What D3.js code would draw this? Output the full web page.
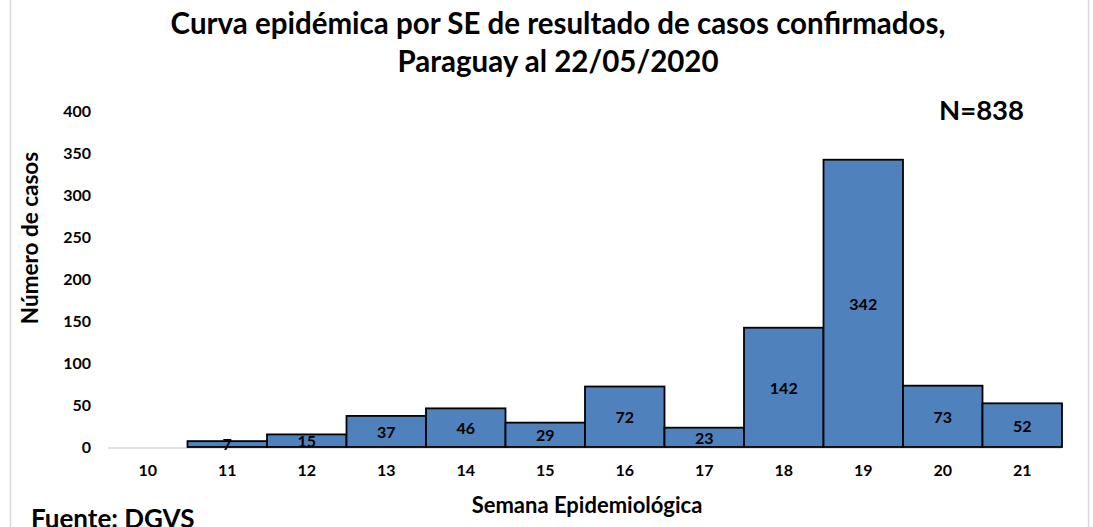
<!DOCTYPE html>
<html>
<head>
<meta charset="utf-8">
<script src="https://cdn.jsdelivr.net/npm/d3@7"></script>
<style>
  body { margin: 0; background: #fff; }
  svg text { font-family: Lato, "Open Sans", sans-serif; font-weight: bold; fill: #000; }
  .tick-label { font-size: 16px; }
  .bar-label { font-size: 16px; }
</style>
</head>
<body>
<svg width="1093" height="527"></svg>
<script>
var weeks = ['10', '11', '12', '13', '14', '15', '16', '17', '18', '19', '20', '21'];
var cases = [0, 7, 15, 37, 46, 29, 72, 23, 142, 342, 73, 52];
var yTicks = [0, 50, 100, 150, 200, 250, 300, 350, 400];
var titleLines = ['Curva epidémica por SE de resultado de casos confirmados,', 'Paraguay al 22/05/2020'];

var svg = d3.select('svg');
var width = +svg.attr('width'), height = +svg.attr('height');

//Outer frame (only left and right edges visible in the original).
svg.append('line').attr('x1', 10.5).attr('x2', 10.5).attr('y1', 0).attr('y2', height)
  .style('stroke', '#d9d9d9').style('stroke-width', 1.5);
svg.append('line').attr('x1', 1088.5).attr('x2', 1088.5).attr('y1', 0).attr('y2', height)
  .style('stroke', '#d9d9d9').style('stroke-width', 1.5);

var margin = {top: 111, right: 31, bottom: 80, left: 108};
var innerW = width - margin.left - margin.right,
    innerH = height - margin.top - margin.bottom;
var inner = svg.append('g')
  .attr('transform', 'translate(' + margin.left + ',' + margin.top + ')');

var data = weeks.map(function(w, i) { return {week: w, value: cases[i]}; });

var xScale = d3.scaleBand().domain(weeks).range([0, innerW]).padding(0);
var yScale = d3.scaleLinear().domain([0, 400]).range([innerH, 0]);

//Y axis tick labels (no axis line).
var yAxis = inner.append('g').call(d3.axisLeft(yScale).tickValues(yTicks).tickSize(0).tickPadding(17));
yAxis.select('.domain').remove();
yAxis.selectAll('text').attr('class', 'tick-label').attr('dy', '0.36em');
yAxis.attr('font-family', null).attr('font-size', null);

//Baseline.
inner.append('line')
  .attr('x1', 0).attr('x2', innerW)
  .attr('y1', innerH + 1).attr('y2', innerH + 1)
  .style('stroke', '#d9d9d9').style('stroke-width', 1.5);

//Bars.
inner.selectAll('rect.bar')
  .data(data.filter(function(d) { return d.value > 0; }))
  .enter().append('rect')
  .attr('class', 'bar')
  .attr('x', function(d) { return xScale(d.week); })
  .attr('y', function(d) { return yScale(d.value); })
  .attr('width', xScale.bandwidth())
  .attr('height', function(d) { return innerH - yScale(d.value); })
  .style('fill', '#4f81bd')
  .style('stroke', '#000')
  .style('stroke-width', 1.8);

//X axis tick labels.
var xAxis = inner.append('g')
  .attr('transform', 'translate(0,' + innerH + ')')
  .call(d3.axisBottom(xScale).tickSize(0).tickPadding(18));
xAxis.select('.domain').remove();
xAxis.selectAll('text').attr('class', 'tick-label');
xAxis.attr('font-family', null).attr('font-size', null);

//Data labels, centred in each bar.
inner.selectAll('text.bar-label')
  .data(data.filter(function(d) { return d.value > 0; }))
  .enter().append('text')
  .attr('class', 'bar-label')
  .attr('x', function(d) { return xScale(d.week) + xScale.bandwidth() / 2; })
  .attr('y', function(d) { return (yScale(d.value) + innerH) / 2; })
  .attr('dy', '0.4em')
  .attr('text-anchor', 'middle')
  .text(function(d) { return d.value; });

//Title.
svg.selectAll('text.title')
  .data(titleLines)
  .enter().append('text')
  .attr('class', 'title')
  .attr('x', 558)
  .attr('y', function(d, i) { return 34 + i * 38; })
  .attr('text-anchor', 'middle')
  .style('font-size', '29.5px')
  .text(function(d) { return d; });

//Total.
svg.append('text')
  .attr('x', 1024).attr('y', 120)
  .attr('text-anchor', 'end')
  .style('font-size', '27.5px')
  .text('N=838');

//Axis labels.
svg.append('text')
  .attr('transform', 'translate(38,238) rotate(-90)')
  .attr('text-anchor', 'middle')
  .style('font-size', '22.5px')
  .text('Número de casos');
svg.append('text')
  .attr('x', 587).attr('y', 513)
  .attr('text-anchor', 'middle')
  .style('font-size', '22px')
  .text('Semana Epidemiológica');

//Source.
svg.append('text')
  .attr('x', 31).attr('y', 528)
  .style('font-size', '26px')
  .text('Fuente: DGVS');
</script>
</body>
</html>
